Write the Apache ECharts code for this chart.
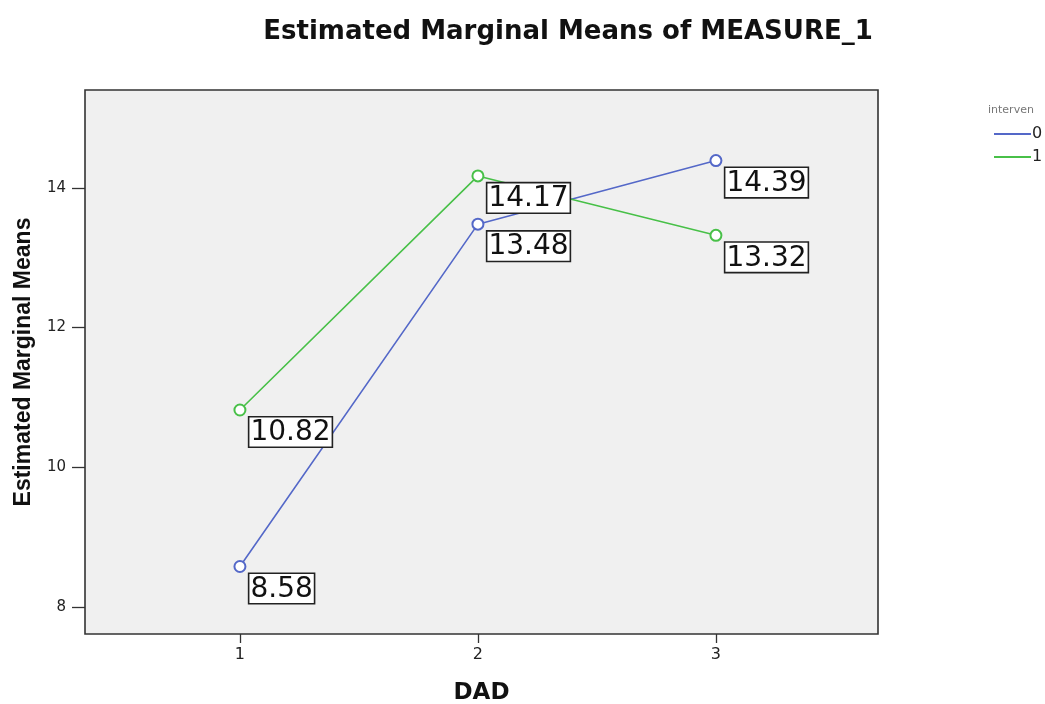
<!DOCTYPE html>
<html>
<head>
<meta charset="utf-8">
<script src="https://cdn.jsdelivr.net/npm/echarts@6/dist/echarts.min.js"></script>
<style>
  html, body { margin: 0; padding: 0; background: #fff; }
  #chart { width: 1045px; height: 704px; }
</style>
</head>
<body>
<div id="chart"></div>
<script>
// DAD levels on the x axis
const dadLevels = [1, 2, 3];
// Estimated marginal means per intervention group
const interven0 = [8.58, 13.48, 14.39];
const interven1 = [10.82, 14.17, 13.32];
const groupNames = ['0', '1'];
const yTicks = [8, 10, 12, 14];

const blue = '#5468c8';
const green = '#48c048';
const wideFont = 'DejaVu Sans, Verdana, sans-serif';

function pairs(values) {
  return dadLevels.map((d, i) => [d, values[i]]);
}

const labelStyle = {
  show: true,
  position: [16, 14],
  formatter: p => p.value[1].toFixed(2),
  fontFamily: wideFont,
  fontSize: 28,
  color: '#111',
  backgroundColor: '#fff',
  borderColor: '#222',
  borderWidth: 1.6,
  padding: [2, 1, 0, 1],
  lineHeight: 27
};

function makeSeries(name, values, color) {
  return {
    name: name,
    type: 'line',
    data: pairs(values),
    symbol: 'emptyCircle',
    symbolSize: 11,
    lineStyle: { color: color, width: 1.6 },
    itemStyle: { color: color, borderWidth: 1.4 },
    label: labelStyle,
    emphasis: { disabled: true },
    animation: false
  };
}

const chart = echarts.init(document.getElementById('chart'));
chart.setOption({
  animation: false,
  title: [
    {
      text: 'Estimated Marginal Means of MEASURE_1',
      left: 563, top: 14, textAlign: 'center',
      textStyle: { fontFamily: wideFont, fontWeight: 'bold', fontSize: 26, color: '#111' }
    },
    {
      text: 'interven',
      left: 983, top: 100,
      textStyle: { fontFamily: wideFont, fontWeight: 'normal', fontSize: 11, color: '#777' }
    }
  ],
  legend: {
    orient: 'vertical',
    left: 989, top: 121,
    icon: 'rect',
    itemWidth: 37, itemHeight: 2,
    itemGap: 7,
    data: groupNames,
    textStyle: { fontFamily: wideFont, fontSize: 16, color: '#222', padding: [0, 0, 0, -4] }
  },
  grid: {
    left: 85, top: 90, right: 167, bottom: 70,
    outerBoundsMode: 'none',
    show: true,
    backgroundColor: '#f0f0f0',
    borderColor: '#333',
    borderWidth: 1.6
  },
  xAxis: {
    type: 'value',
    min: 0.349, max: 3.681,
    name: 'DAD',
    nameLocation: 'middle',
    nameGap: 48,
    nameTextStyle: { fontFamily: wideFont, fontWeight: 'bold', fontSize: 23, color: '#111' },
    axisLine: { show: false },
    splitLine: { show: false },
    axisTick: { show: true, length: 9, customValues: dadLevels, lineStyle: { color: '#333', width: 1.3 } },
    axisLabel: { customValues: dadLevels, fontFamily: wideFont, fontSize: 16, color: '#222', margin: 13 }
  },
  yAxis: {
    type: 'value',
    min: 7.614, max: 15.4,
    name: 'Estimated Marginal Means',
    nameLocation: 'middle',
    nameGap: 50,
    nameTextStyle: { fontFamily: 'Liberation Sans, Arial, sans-serif', fontWeight: 'bold', fontSize: 23, color: '#111' },
    axisLine: { show: false },
    splitLine: { show: false },
    axisTick: { show: true, length: 13, customValues: yTicks, lineStyle: { color: '#333', width: 1.3 } },
    axisLabel: { customValues: yTicks, fontFamily: wideFont, fontSize: 15, color: '#222', margin: 19 }
  },
  series: [
    makeSeries(groupNames[0], interven0, blue),
    makeSeries(groupNames[1], interven1, green)
  ]
});
</script>
</body>
</html>
